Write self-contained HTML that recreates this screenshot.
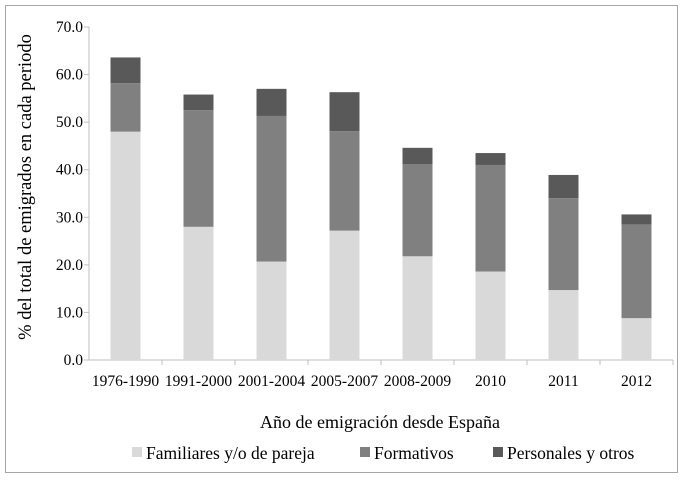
<!DOCTYPE html>
<html><head><meta charset="utf-8"><style>
body{margin:0;background:#fff}
svg{display:block;font-family:"Liberation Serif",serif}
</style></head><body>
<svg id="c" width="684" height="482">
<rect x="5.5" y="5.5" width="672" height="467" fill="#fff" stroke="#a6a6a6"/>
<g id="g"></g>
</svg>
<script>
const categories=["1976-1990","1991-2000","2001-2004","2005-2007","2008-2009","2010","2011","2012"];
const familiares=[48.0,28.0,20.7,27.2,21.8,18.6,14.7,8.8];
const formativos=[10.2,24.5,30.6,20.9,19.4,22.4,19.3,19.7];
const personales=[5.4,3.3,5.7,8.2,3.4,2.5,4.9,2.1];
const yTicks=[0,10,20,30,40,50,60,70];
const NS="http://www.w3.org/2000/svg",g=document.getElementById('g');
const x0=89,step=73,y0=360,ppu=(360-27)/70,bw=30;
const y=v=>y0-v*ppu, xc=i=>x0+step*(i+0.5);
const axc='#bfbfbf';
function mk(t,a,txt){const e=document.createElementNS(NS,t);for(const k in a)e.setAttribute(k,a[k]);if(txt!=null)e.textContent=txt;g.appendChild(e);return e;}
let ax=mk('line',{x1:x0,y1:27,x2:x0,y2:y0,stroke:axc});


yTicks.forEach(v=>{
 let l=mk('line',{x1:x0-5,x2:x0,y1:y(v),y2:y(v),stroke:axc});
 
 
 let t=mk('text',{x:x0-6,y:y(v)+5,'text-anchor':'end','font-size':15.5},v.toFixed(1));
 
 
});
let xa=mk('line',{x1:x0,y1:y0,x2:x0+step*categories.length,y2:y0,stroke:axc});


const cols=['#d9d9d9','#808080','#595959'];
const series=[familiares,formativos,personales];
categories.forEach((c,i)=>{
 let tk=mk('line',{x1:x0+step*(i+1),x2:x0+step*(i+1),y1:y0,y2:y0+5,stroke:axc});
 
 
 let base=0;
 series.forEach((s,k)=>{
  const v=s[i];
  let r=mk('rect',{x:xc(i)-bw/2,y:y(base+v),width:bw,height:v*ppu,fill:cols[k]});
  
  
  base+=v;
 });
 let t=mk('text',{x:xc(i),y:386,'text-anchor':'middle','font-size':15.5},c);
 
 
});
let xt=mk('text',{x:380,y:428,'text-anchor':'middle','font-size':18},'Año de emigración desde España');


let yt=mk('text',{transform:'translate(31,187) rotate(-90)','text-anchor':'middle','font-size':18.5},'% del total de emigrados en cada periodo');


const legNames=['Familiares y/o de pareja','Formativos','Personales y otros'];
const legX=[132,360,493];
legNames.forEach((n,k)=>{
 let r=mk('rect',{x:legX[k],y:447,width:10,height:10,fill:cols[k]});
 
 
 let t=mk('text',{x:legX[k]+14,y:459,'font-size':17.5},n);
 
 
});
</script>
</body></html>
